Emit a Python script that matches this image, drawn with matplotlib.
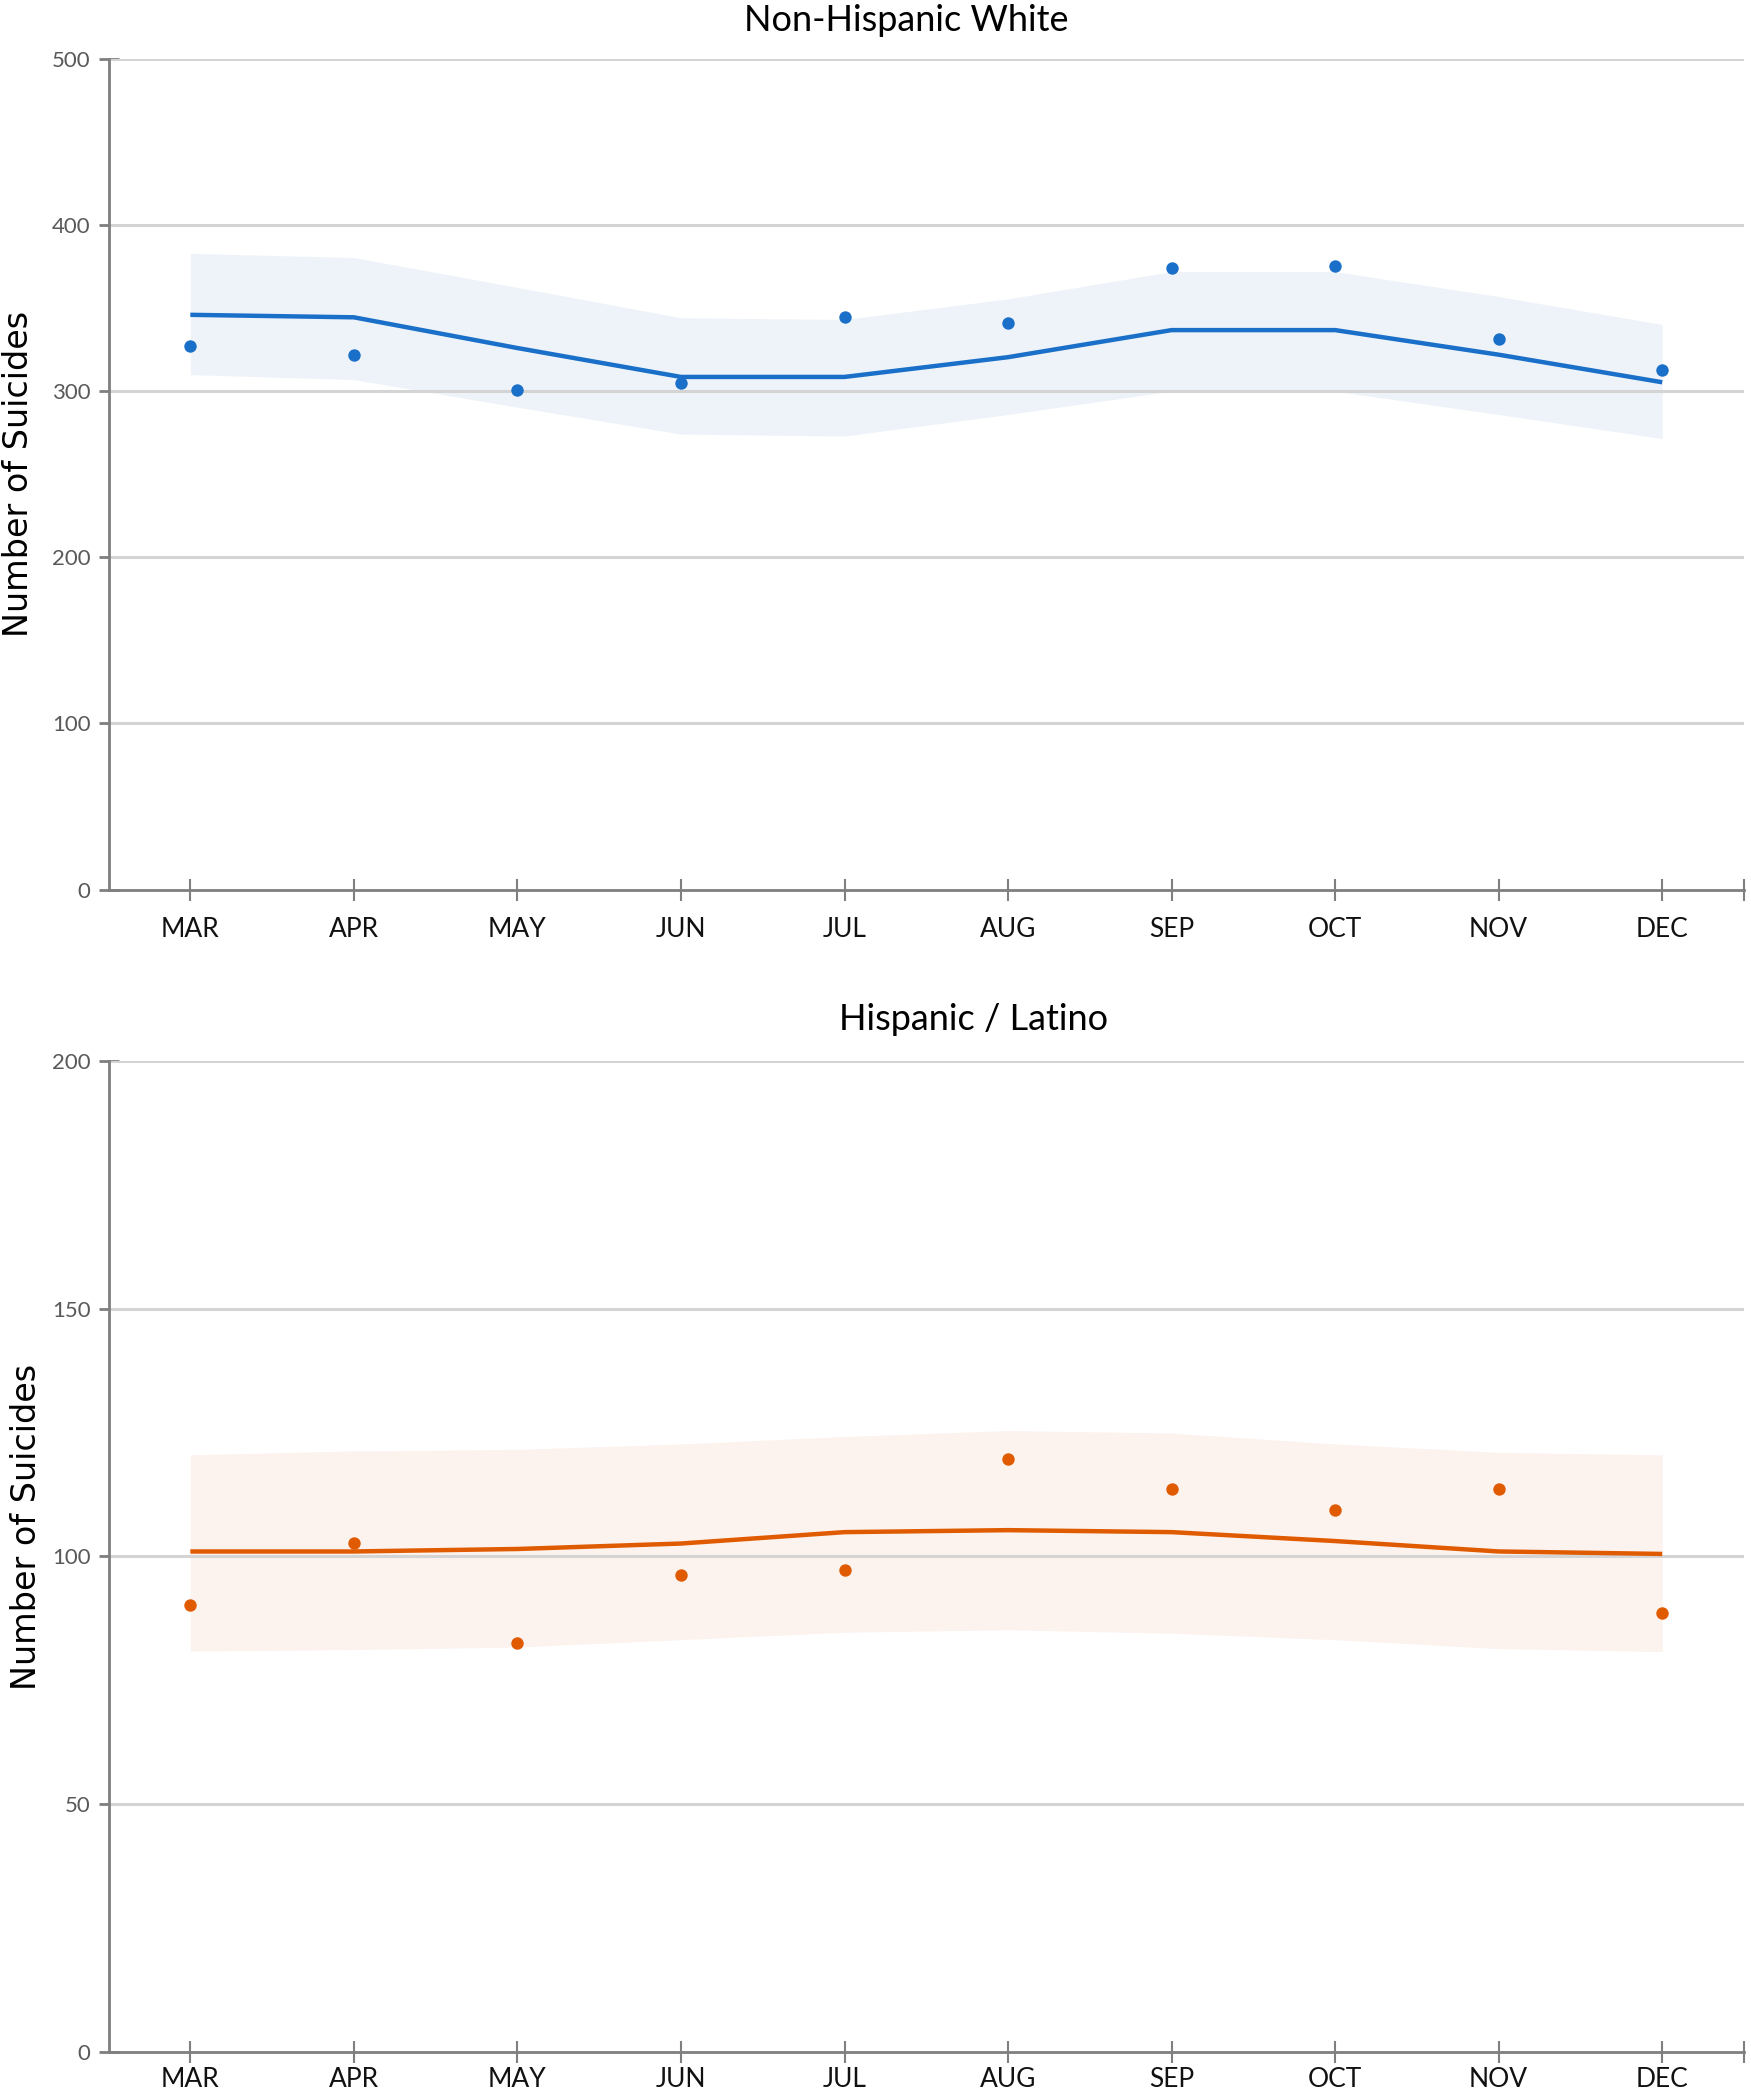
import matplotlib
matplotlib.use("Agg")
import matplotlib.pyplot as plt

months = ["MAR", "APR", "MAY", "JUN", "JUL", "AUG", "SEP", "OCT", "NOV", "DEC"]

# Non-Hispanic White
white_obs = [327, 322, 300.5, 305, 344.5, 341, 374, 375.5, 331.5, 313]
white_fit = [346, 344.5, 326, 308.6, 308.6, 320.5, 336.8, 336.8, 322, 305.4]
white_hi = [383, 380.5, 362.5, 344.2, 343.2, 355.6, 372, 372, 357, 340.2]
white_lo = [310, 307, 290.4, 274.2, 273, 286, 300, 300, 286, 271.5]

# Hispanic / Latino
hisp_obs = [90.1, 102.7, 82.5, 96.2, 97.3, 119.7, 113.7, 109.3, 113.7, 88.6]
hisp_fit = [101.0, 101.0, 101.5, 102.6, 104.9, 105.3, 104.9, 103.1, 101.0, 100.5]
hisp_hi = [120.5, 121.3, 121.6, 122.7, 124.2, 125.4, 124.9, 122.7, 121.0, 120.5]
hisp_lo = [80.9, 81.2, 81.7, 83.2, 84.7, 85.2, 84.5, 83.2, 81.4, 80.8]

title_font = ["Lato", "DejaVu Sans"]
tick_font = ["Lato", "DejaVu Sans"]

fig = plt.figure(figsize=(17.51, 21.0), dpi=100)
ax1 = fig.add_axes([0.062, 0.5764, 0.934, 0.3955])
ax2 = fig.add_axes([0.062, 0.0229, 0.934, 0.4719])


def draw_panel(ax, obs, fit, hi, lo, color, band, title, ymax, step, title_x, xpad, tpad):
    x = list(range(len(months)))
    ax.fill_between(x, lo, hi, color=band, lw=0, zorder=1)
    ax.plot(x, fit, color=color, lw=3.2, zorder=3, solid_capstyle="butt")
    ax.scatter(x, obs, s=80, color=color, zorder=4, lw=0)
    ax.set_xlim(-0.5, 9.5)
    ax.set_ylim(0, ymax)
    yt = list(range(0, ymax + 1, step))
    ax.set_yticks(yt)
    ax.set_yticklabels([str(v) for v in yt], family=tick_font, fontsize=16, color="#595959")
    ax.set_xticks(x)
    ax.set_xticklabels(months, family=tick_font, fontsize=19, color="#111111")
    ax.set_xticks([9.5], minor=True)
    for v in yt[1:]:
        ax.axhline(v, color="#d4d4d4", lw=2.2, zorder=2)
    for s in ["top", "right"]:
        ax.spines[s].set_visible(False)
    for s in ["left", "bottom"]:
        ax.spines[s].set_color("#7f7f7f")
        ax.spines[s].set_linewidth(2)
    ax.tick_params(axis="x", which="both", direction="inout", length=16, width=1.5,
                   color="#7f7f7f", pad=xpad)
    ax.tick_params(axis="y", direction="inout", length=14, width=2, color="#7f7f7f", pad=6)
    ax.set_ylabel("Number of Suicides", fontsize=24, family=["DejaVu Sans"])
    ax.set_title(title, family=title_font, fontsize=26, x=title_x, pad=tpad)


draw_panel(ax1, white_obs, white_fit, white_hi, white_lo, "#1a6fc9", "#eef3f9",
           "Non-Hispanic White", 500, 100, 0.488, 12, 20)
draw_panel(ax2, hisp_obs, hisp_fit, hisp_hi, hisp_lo, "#e05a00", "#fcf2ee",
           "Hispanic / Latino", 200, 50, 0.529, 3, 22)

ax1.yaxis.set_label_coords(-0.045, 0.5)
ax2.yaxis.set_label_coords(-0.040, 0.53)

fig.savefig("out.png", dpi=100, facecolor="white")
